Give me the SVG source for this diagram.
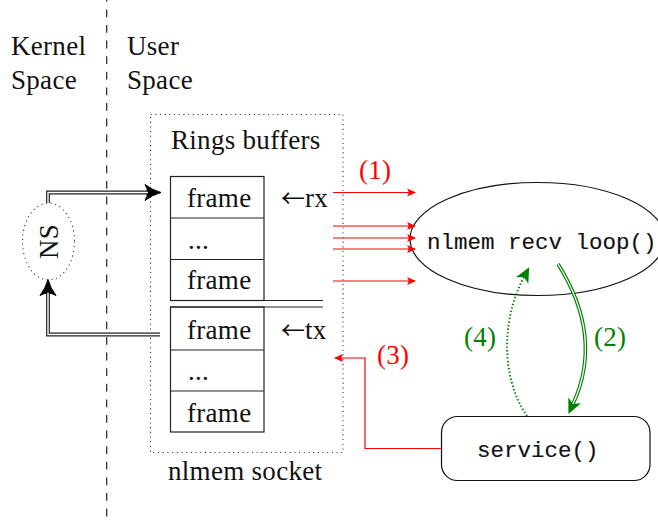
<svg xmlns="http://www.w3.org/2000/svg" width="658" height="520" viewBox="0 0 658 520">
  <style>
    .rm { font-family: "Liberation Serif", "DejaVu Serif", serif; font-size: 27px; letter-spacing: 0.3px; fill: #111; }
    .arr { font-family: "Noto Sans CJK SC", "DejaVu Sans", sans-serif; font-size: 24px; letter-spacing: 0; }
    .tt { font-family: "Liberation Mono", "DejaVu Sans Mono", monospace; font-size: 22.5px; fill: #111; stroke: #111; stroke-width: 0.15; }
    .red { fill: #ff0000; }
    .grn { fill: #008000; }
    .frame { fill: none; stroke: #222; stroke-width: 1.2; }
    .dotted { fill: none; stroke: #333; stroke-width: 1.1; stroke-dasharray: 1.1 3.6; }
    .dbl-out { fill: none; stroke: #222; stroke-width: 3.8; }
    .dbl-in { fill: none; stroke: #fff; stroke-width: 1.4; }
    .rline { fill: none; stroke: #ff0000; stroke-width: 1.2; }
  </style>
  <defs>
    <marker id="blackHead" markerUnits="userSpaceOnUse" viewBox="-17 -9 19 18" refX="-11" refY="0" markerWidth="19" markerHeight="18" orient="auto">
      <path d="M1,0 Q-8,-2.5 -15,-8 Q-10,0 -15,8 Q-8,2.5 1,0 Z" fill="#000" stroke="#000" stroke-width="1" stroke-linejoin="round"/>
    </marker>
    <marker id="redHead" markerUnits="userSpaceOnUse" viewBox="-10 -5 11 10" refX="-1" refY="0" markerWidth="11" markerHeight="10" orient="auto">
      <path d="M0,0 L-9,-4 Q-6,0 -9,4 Z" fill="#ff0000"/>
    </marker>
    <marker id="greenHead" markerUnits="userSpaceOnUse" viewBox="-16 -8 18 16" refX="-10" refY="0" markerWidth="18" markerHeight="16" orient="auto">
      <path d="M1,0 L-14,-7 L-10,0 L-14,7 Z" fill="#008000"/>
    </marker>
  </defs>

  <!-- kernel / user boundary -->
  <line x1="106.7" y1="-6.2" x2="106.7" y2="520" stroke="#222" stroke-width="1.2" stroke-dasharray="7.8 7.8"/>
  <text class="rm" x="11" y="55">Kernel</text>
  <text class="rm" x="11" y="89">Space</text>
  <text class="rm" x="127" y="55">User</text>
  <text class="rm" x="127" y="89">Space</text>

  <!-- netlink socket with its rx and tx rings -->
  <g id="socket">
    <rect class="dotted" x="150.5" y="114.5" width="192.5" height="338"/>
    <text class="rm" x="171" y="149">Rings buffers</text>
    <text class="rm" x="168" y="480">nlmem socket</text>
  </g>
  <g id="rx-ring">
    <rect class="frame" x="170.5" y="176.5" width="93.5" height="124"/>
    <line class="frame" x1="170.5" y1="218" x2="264" y2="218"/>
    <line class="frame" x1="170.5" y1="259.5" x2="264" y2="259.5"/>
    <line class="frame" x1="170.5" y1="300.5" x2="323" y2="300.5" stroke-width="1.6"/>
    <text class="rm" x="187" y="207">frame</text>
    <text class="rm" x="188" y="249">...</text>
    <text class="rm" x="187" y="289">frame</text>
    <text class="rm" x="281" y="207"><tspan class="arr">←</tspan>rx</text>
  </g>
  <g id="tx-ring">
    <rect class="frame" x="170.5" y="307" width="93.5" height="125"/>
    <line class="frame" x1="170.5" y1="307" x2="323" y2="307"/>
    <line class="frame" x1="170.5" y1="350" x2="264" y2="350"/>
    <line class="frame" x1="170.5" y1="391" x2="264" y2="391"/>
    <text class="rm" x="187" y="339">frame</text>
    <text class="rm" x="188" y="380">...</text>
    <text class="rm" x="187" y="422">frame</text>
    <text class="rm" x="281" y="339"><tspan class="arr">←</tspan>tx</text>
  </g>

  <!-- netlink subsystem on the kernel side -->
  <g id="ns">
    <ellipse class="dotted" cx="48.5" cy="241.5" rx="26" ry="38.5"/>
    <text class="rm" x="0" y="0" text-anchor="middle" transform="translate(57.5,241.5) rotate(-90)">NS</text>
  </g>

  <!-- receive loop -->
  <g id="recv-loop">
    <ellipse cx="537.5" cy="239" rx="127.5" ry="56.5" fill="none" stroke="#111" stroke-width="1.2"/>
    <text class="tt" x="427" y="249">nlmem recv loop()</text>
  </g>

  <!-- service callback -->
  <g id="service">
    <rect x="441.5" y="416.5" width="208.5" height="64" rx="16" ry="16" fill="none" stroke="#111" stroke-width="1.2"/>
    <text class="tt" x="477" y="457">service()</text>
  </g>

  <g id="connectors">
    <!-- kernel writes into rx ring -->
    <path class="dbl-out" d="M48,203 V192.5 H149" marker-end="url(#blackHead)"/>
    <path class="dbl-in" d="M48,204 V192.5 H148"/>
    <!-- kernel reads from tx ring -->
    <path class="dbl-out" d="M160,334.5 H48 V291.5" marker-end="url(#blackHead)"/>
    <path class="dbl-in" d="M160,334.5 H48 V292.5"/>

    <!-- (1) frames handed to the receive loop -->
    <line class="rline" x1="333" y1="192.5" x2="415" y2="192.5" marker-end="url(#redHead)"/>
    <line class="rline" x1="333" y1="226" x2="415" y2="226" marker-end="url(#redHead)"/>
    <line class="rline" x1="333" y1="238" x2="415" y2="238" marker-end="url(#redHead)"/>
    <line class="rline" x1="333" y1="249" x2="415" y2="249" marker-end="url(#redHead)"/>
    <line class="rline" x1="333" y1="281" x2="415" y2="281" marker-end="url(#redHead)"/>
    <text class="rm red" x="359" y="179">(1)</text>

    <!-- (2) loop calls service -->
    <path d="M558,264 C592,318 591,365 573,404" fill="none" stroke="#008000" stroke-width="3.6" marker-end="url(#greenHead)"/>
    <path d="M558,264 C592,318 591,365 573,404" fill="none" stroke="#fff" stroke-width="1.3"/>
    <text class="rm grn" x="594" y="346">(2)</text>

    <!-- (3) service replies through tx ring -->
    <path class="rline" d="M441,448.5 H365 V358 H335" marker-end="url(#redHead)"/>
    <text class="rm red" x="377" y="364">(3)</text>

    <!-- (4) control returns to the loop -->
    <path d="M527,416 C502,380 500,322 524,277" fill="none" stroke="#008000" stroke-width="2" stroke-dasharray="1.4 2.2" marker-end="url(#greenHead)"/>
    <text class="rm grn" x="464" y="346">(4)</text>
  </g>
</svg>
